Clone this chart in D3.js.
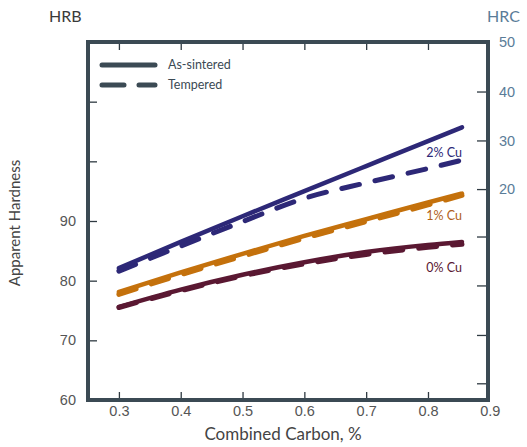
<!DOCTYPE html>
<html>
<head>
<meta charset="utf-8">
<script src="https://cdn.jsdelivr.net/npm/d3@7"></script>
<style>
  html, body { margin: 0; padding: 0; background: #ffffff; }
  svg { display: block; font-family: Lato, "Open Sans", sans-serif; }
</style>
</head>
<body>
<svg id="chart" width="527" height="447"></svg>
<script>
// Combined carbon (%) sample points
const carbon = [0.3, 0.4, 0.5, 0.6, 0.7, 0.8, 0.855];

// Apparent hardness, HRB
const cu2Sintered = [82.1, 86.5, 90.8, 95.0, 99.2, 103.4, 105.7];
const cu2Tempered = [81.6, 85.8, 89.9, 93.8, 96.4, 98.8, 100.2];
const cu1Sintered = [78.1, 81.4, 84.5, 87.5, 90.3, 93.1, 94.6];
const cu1Tempered = [77.7, 81.0, 84.1, 87.1, 89.9, 92.7, 94.3];
const cu0Sintered = [75.6, 78.5, 81.0, 83.1, 84.8, 86.0, 86.5];
const cu0Tempered = [75.5, 78.3, 80.8, 82.8, 84.4, 85.6, 86.1];

const seriesNames = ["2% Cu", "1% Cu", "0% Cu"];

// Axis ticks
const xTicks = [0.3, 0.4, 0.5, 0.6, 0.7, 0.8, 0.9];
const hrbTicks = [60, 70, 80, 90, 100, 110];
const hrbTickLabels = ["60", "70", "80", "90", "", ""];
// HRC scale marks, placed at their HRB equivalents
const hrcTickHrb = [120, 111.7, 103.5, 95.35, 87.4, 79.2, 70.9, 62.8];
const hrcTickLabels = ["50", "40", "30", "20", "", "", "", ""];

const colors = { "2% Cu": "#2d2877", "1% Cu": "#c4710c", "0% Cu": "#5a1832" };
const labelColors = { "2% Cu": "#2d2877", "1% Cu": "#b0601a", "0% Cu": "#5a1832" };
const frameColor = "#3b4a54";

const svg = d3.select("#chart");
const mLeft = 88, mRight = 488, mTop = 42, mBottom = 400;

const x = d3.scaleLinear().domain([0.25, 0.9]).range([mLeft, 489.8]);
const y = d3.scaleLinear().domain([60, 120]).range([mBottom, mTop]);

const series = [
  { name: "2% Cu", sintered: cu2Sintered, tempered: cu2Tempered },
  { name: "1% Cu", sintered: cu1Sintered, tempered: cu1Tempered },
  { name: "0% Cu", sintered: cu0Sintered, tempered: cu0Tempered }
];

const line = d3.line()
  .x(d => x(d[0]))
  .y(d => y(d[1]))
  .curve(d3.curveMonotoneX);

const plot = svg.append("g");

// Data lines: tempered (dashed) underneath, as-sintered (solid) on top
series.forEach(s => {
  const pts = carbon.map((c, i) => [c, s.tempered[i]]);
  plot.append("path")
    .attr("d", line(pts))
    .attr("fill", "none")
    .attr("stroke", colors[s.name])
    .attr("stroke-width", 5)
    .attr("stroke-linecap", "round")
    .attr("stroke-dasharray", "18,16");
});
series.forEach(s => {
  const pts = carbon.map((c, i) => [c, s.sintered[i]]);
  plot.append("path")
    .attr("d", line(pts))
    .attr("fill", "none")
    .attr("stroke", colors[s.name])
    .attr("stroke-width", 4.5)
    .attr("stroke-linecap", "round");
});

// Series labels at the right end of each group (HRB level of the baseline)
const labelLevel = { "2% Cu": 100.7, "1% Cu": 90.1, "0% Cu": 81.4 };
seriesNames.forEach(n => {
  svg.append("text")
    .attr("x", x(0.855))
    .attr("y", y(labelLevel[n]))
    .attr("text-anchor", "end")
    .attr("font-size", 12.5)
    .attr("fill", labelColors[n])
    .text(n);
});

// Axes (ticks point inward)
const tickStyle = g => {
  g.select(".domain").remove();
  g.selectAll(".tick line").attr("stroke", "#2f3a42").attr("stroke-width", 1.3);
  g.selectAll(".tick text").attr("font-size", 14.5).attr("fill", "#555");
};

svg.append("g")
  .attr("transform", `translate(0,${mBottom})`)
  .call(d3.axisBottom(x).tickValues(xTicks).tickFormat(d3.format(".1f")).tickSizeInner(-8).tickPadding(6))
  .call(tickStyle)
  .call(g => g.selectAll(".tick line").filter(d => d === 0.9).remove());

svg.append("g")
  .attr("transform", `translate(0,${mTop})`)
  .call(d3.axisTop(x).tickValues(xTicks.slice(0, 6)).tickSizeInner(-8).tickFormat(""))
  .call(tickStyle);

svg.append("g")
  .attr("transform", `translate(${mLeft},0)`)
  .call(d3.axisLeft(y).tickValues(hrbTicks).tickFormat((d, i) => hrbTickLabels[i]).tickSizeInner(-9).tickPadding(12))
  .call(tickStyle)
  .call(g => g.selectAll(".tick line").filter(d => d === 60).remove());

svg.append("g")
  .attr("transform", `translate(${mRight},0)`)
  .call(d3.axisRight(y).tickValues(hrcTickHrb).tickFormat((d, i) => hrcTickLabels[i]).tickSizeInner(-11).tickPadding(11))
  .call(tickStyle)
  .call(g => g.selectAll(".tick text").attr("fill", "#5a7c98"))
  .call(g => g.selectAll(".tick line").filter(d => d === 120).remove());

// Frame
svg.append("rect")
  .attr("x", mLeft).attr("y", mTop)
  .attr("width", mRight - mLeft).attr("height", mBottom - mTop)
  .attr("fill", "none")
  .attr("stroke", frameColor)
  .attr("stroke-width", 4);

// Legend
const legend = svg.append("g");
legend.append("line")
  .attr("x1", 102).attr("x2", 155).attr("y1", 65).attr("y2", 65)
  .attr("stroke", frameColor).attr("stroke-width", 5).attr("stroke-linecap", "round");
legend.append("line")
  .attr("x1", 102).attr("x2", 155).attr("y1", 85).attr("y2", 85)
  .attr("stroke", frameColor).attr("stroke-width", 5).attr("stroke-linecap", "round")
  .attr("stroke-dasharray", "22,15");
legend.append("text").attr("x", 168).attr("y", 69).attr("font-size", 12.5).attr("fill", "#3b4a54").text("As-sintered");
legend.append("text").attr("x", 168).attr("y", 88.5).attr("font-size", 12.5).attr("fill", "#3b4a54").text("Tempered");

// Axis titles
svg.append("text").attr("x", 49).attr("y", 22).attr("font-size", 16).attr("fill", "#3a3a3a").text("HRB");
svg.append("text").attr("x", 487).attr("y", 22).attr("font-size", 16).attr("fill", "#5a7c98").text("HRC");
svg.append("text")
  .attr("transform", "translate(20,223) rotate(-90)")
  .attr("text-anchor", "middle")
  .attr("font-size", 15).attr("fill", "#444")
  .text("Apparent Hardness");
svg.append("text")
  .attr("x", 283).attr("y", 440)
  .attr("text-anchor", "middle")
  .attr("font-size", 17).attr("fill", "#444")
  .text("Combined Carbon, %");
</script>
</body>
</html>
